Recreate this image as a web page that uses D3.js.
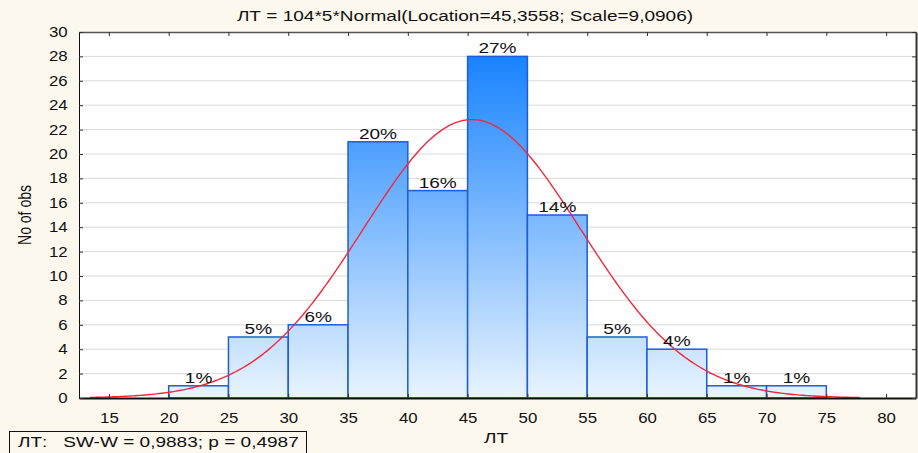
<!DOCTYPE html>
<html>
<head>
<meta charset="utf-8">
<script src="https://cdn.jsdelivr.net/npm/d3@7"></script>
<style>
  body { margin: 0; background: #fdf8ee; }
  text { font-family: "Liberation Sans", Arial, sans-serif; fill: #111; }
</style>
</head>
<body>
<svg id="chart" width="918" height="453"></svg>
<script>
// bins of LT (lower edge), counts and shown percentages
const binStarts = [20, 25, 30, 35, 40, 45, 50, 55, 60, 65, 70];
const counts = [1, 5, 6, 21, 17, 28, 15, 5, 4, 1, 1];
const percents = ["1%", "5%", "6%", "20%", "16%", "27%", "14%", "5%", "4%", "1%", "1%"];
const xTicks = [15, 20, 25, 30, 35, 40, 45, 50, 55, 60, 65, 70, 75, 80];
const yTicks = [0, 2, 4, 6, 8, 10, 12, 14, 16, 18, 20, 22, 24, 26, 28, 30];

// fitted normal from the title
const nObs = 104, binWidth = 5, fitLocation = 45.3558, fitScale = 9.0906;
const curveRange = [13.4, 77.8];

const svg = d3.select("#chart");
const margin = { top: 32, right: 2, bottom: 55, left: 79 };
const W = +svg.attr("width"), H = +svg.attr("height");

// the reference text looks horizontally stretched
const SX = 1.27, SX_TICK = 1.2;

const x = d3.scaleLinear().domain([12.5, 82.5]).range([margin.left, W - margin.right]);
const y = d3.scaleLinear().domain([0, 30]).range([H - margin.bottom, margin.top]);

// plot background
svg.append("rect")
  .attr("x", x(12.5)).attr("y", y(30))
  .attr("width", x(82.5) - x(12.5)).attr("height", y(0) - y(30))
  .attr("fill", "#fff");

// gradient for bars
const defs = svg.append("defs");
const grad = defs.append("linearGradient")
  .attr("id", "barGrad")
  .attr("gradientUnits", "userSpaceOnUse")
  .attr("x1", 0).attr("x2", 0)
  .attr("y1", y(0)).attr("y2", y(28));
grad.append("stop").attr("offset", 0).attr("stop-color", "#e9f4fe");
grad.append("stop").attr("offset", 1).attr("stop-color", "#1883ff");

// grid
svg.append("g").selectAll("line")
  .data(yTicks.filter(d => d > 0 && d < 30))
  .enter().append("line")
  .attr("x1", x(12.5)).attr("x2", x(82.5))
  .attr("y1", d => y(d)).attr("y2", d => y(d))
  .attr("stroke", "#d9d9d9").attr("stroke-width", 1);

// bars
svg.append("g").selectAll("rect")
  .data(counts)
  .enter().append("rect")
  .attr("x", (d, i) => x(binStarts[i]))
  .attr("y", d => y(d))
  .attr("width", (d, i) => x(binStarts[i] + binWidth) - x(binStarts[i]))
  .attr("height", d => y(0) - y(d))
  .attr("fill", "url(#barGrad)")
  .attr("stroke", "#1d5ed6")
  .attr("stroke-width", 1.5);

// normal curve
const pts = d3.range(curveRange[0], curveRange[1] + 0.01, 0.2).map(v => [
  v, nObs * binWidth * Math.exp(-0.5 * ((v - fitLocation) / fitScale) ** 2) / (fitScale * Math.sqrt(2 * Math.PI))
]);
svg.append("path")
  .datum(pts)
  .attr("fill", "none")
  .attr("stroke", "#f2283a")
  .attr("stroke-width", 1.4)
  .attr("d", d3.line().x(d => x(d[0])).y(d => y(d[1])));

// percent labels
svg.append("g").selectAll("text")
  .data(counts)
  .enter().append("text")
  .attr("transform", (d, i) => `translate(${x(binStarts[i] + binWidth / 2)},${y(d) - 3}) scale(${SX},1)`)
  .attr("text-anchor", "middle")
  .attr("font-size", 15)
  .text((d, i) => percents[i]);

// axes (ticks inward)
const axisStyle = g => {
  g.selectAll("text").attr("font-size", 14).style("fill", "#111")
    .attr("transform", `scale(${SX_TICK},1)`);
  g.selectAll(".tick line").attr("stroke", "#333");
  g.select(".domain").attr("stroke", "#111");
};
svg.append("g")
  .attr("transform", `translate(0,${y(0)})`)
  .call(d3.axisBottom(x).tickValues(xTicks).tickSizeInner(-4).tickSizeOuter(0).tickPadding(15))
  .call(axisStyle)
  .call(g => g.select(".domain").attr("stroke-width", 2));
svg.append("g")
  .attr("transform", `translate(0,${y(30)})`)
  .call(d3.axisTop(x).tickValues(xTicks).tickSizeInner(-4).tickSizeOuter(0).tickFormat(""))
  .call(axisStyle)
  .call(g => g.select(".domain").attr("stroke", "#555").attr("stroke-width", 1.5));
svg.append("g")
  .attr("transform", `translate(${x(12.5)},0)`)
  .call(d3.axisLeft(y).tickValues(yTicks).tickSizeInner(-4).tickSizeOuter(0).tickPadding(9.5))
  .call(axisStyle);
svg.append("g")
  .attr("transform", `translate(${x(82.5)},0)`)
  .call(d3.axisRight(y).tickValues(yTicks).tickSizeInner(-4).tickSizeOuter(0).tickFormat(""))
  .call(axisStyle)
  .call(g => g.select(".domain").attr("stroke", "#333").attr("stroke-width", 2));

// title and axis labels
svg.append("text")
  .attr("transform", `translate(465,20.5) scale(${SX},1)`)
  .attr("text-anchor", "middle")
  .attr("font-size", 15)
  .text("ЛТ = 104*5*Normal(Location=45,3558; Scale=9,0906)");

svg.append("text")
  .attr("transform", `translate(31,${(y(0) + y(30)) / 2}) rotate(-90) scale(1,${SX})`)
  .attr("text-anchor", "middle")
  .attr("font-size", 14)
  .text("No of obs");

svg.append("text")
  .attr("transform", `translate(496,443) scale(${SX},1)`)
  .attr("text-anchor", "middle")
  .attr("font-size", 15)
  .text("ЛТ");

// Shapiro-Wilk box
svg.append("rect")
  .attr("x", 9.5).attr("y", 431.5)
  .attr("width", 297).attr("height", 24)
  .attr("fill", "none").attr("stroke", "#111");
svg.append("text")
  .attr("transform", `translate(18,447) scale(${SX},1)`)
  .attr("font-size", 15)
  .attr("xml:space", "preserve")
  .text("ЛТ:   SW-W = 0,9883; p = 0,4987");
</script>
</body>
</html>
